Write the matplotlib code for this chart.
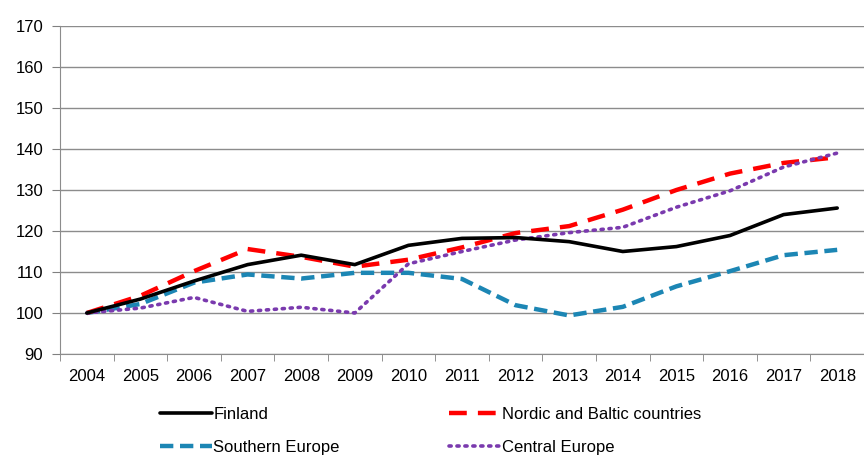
import matplotlib
matplotlib.use("Agg")
import matplotlib.pyplot as plt
import numpy as np

years = [str(y) for y in range(2004, 2019)]
finland = [100, 103.4, 107.8, 111.8, 114.1, 111.8, 116.5, 118.2, 118.4, 117.4, 115.0, 116.2, 118.9, 124.0, 125.6]
nordic = [100, 104.2, 110.2, 115.6, 113.7, 111.3, 113.0, 116.0, 119.5, 121.2, 125.2, 130.0, 134.0, 136.6, 138.0]
southern = [100, 102.2, 107.4, 109.4, 108.4, 109.8, 109.8, 108.3, 101.9, 99.4, 101.5, 106.5, 110.2, 114.1, 115.4]
central = [100, 101.2, 103.8, 100.4, 101.4, 100.0, 112.0, 115.0, 117.8, 119.6, 120.9, 125.8, 129.8, 135.6, 139.0]
yticks = [90, 100, 110, 120, 130, 140, 150, 160, 170]

plt.rcParams['font.family'] = ['Liberation Sans', 'DejaVu Sans']

fig = plt.figure(figsize=(8.64, 4.55), dpi=100)
ax = fig.add_axes([60/864, 1-354/455, 1-60/864, (354-26)/455])

x = np.arange(len(years))
l1, = ax.plot(x, finland, color='black', lw=2.6, solid_capstyle='round', label='Finland', zorder=4)
l2, = ax.plot(x, nordic, color='#ff0000', lw=3.2, dashes=(4, 2.5), label='Nordic and Baltic countries', zorder=3)
l3, = ax.plot(x, southern, color='#1c86b4', lw=3.2, dashes=(3, 1.5), label='Southern Europe', zorder=2)
l4, = ax.plot(x, central, color='#7a3aae', lw=2.6, dashes=(0.6, 1.6), dash_capstyle='round', label='Central Europe', zorder=3)

ax.set_xlim(-0.5, len(years) - 0.5)
ax.set_ylim(90, 170)
ax.set_yticks(yticks)
ax.set_yticklabels([str(v) for v in yticks], fontsize=12)
ax.set_xticks(x)
ax.set_xticklabels(years, fontsize=12)
ax.set_xticks(np.arange(-0.5, len(years) - 0.4, 1), minor=True)
ax.tick_params(axis='x', which='major', length=0, pad=11)
ax.tick_params(axis='x', which='minor', length=5, color='#808080', direction='out')
ax.tick_params(axis='y', length=5.5, color='#808080', direction='out', pad=6.5)

ax.grid(axis='y', color='#8c8c8c', lw=1)
ax.set_axisbelow(True)
for s in ['top', 'right']:
    ax.spines[s].set_visible(False)
ax.spines['left'].set_color('#8c8c8c')
ax.spines['bottom'].set_color('#8c8c8c')

fig.legend([l1, l3, l2, l4], [l.get_label() for l in [l1, l3, l2, l4]],
           loc='lower left', bbox_to_anchor=(160/864, 0.0), ncol=2, frameon=False,
           fontsize=12, handlelength=3.1, handletextpad=0.1, columnspacing=6.55,
           labelspacing=1.1, borderpad=0, borderaxespad=0)

fig.savefig('out.png', dpi=100)
